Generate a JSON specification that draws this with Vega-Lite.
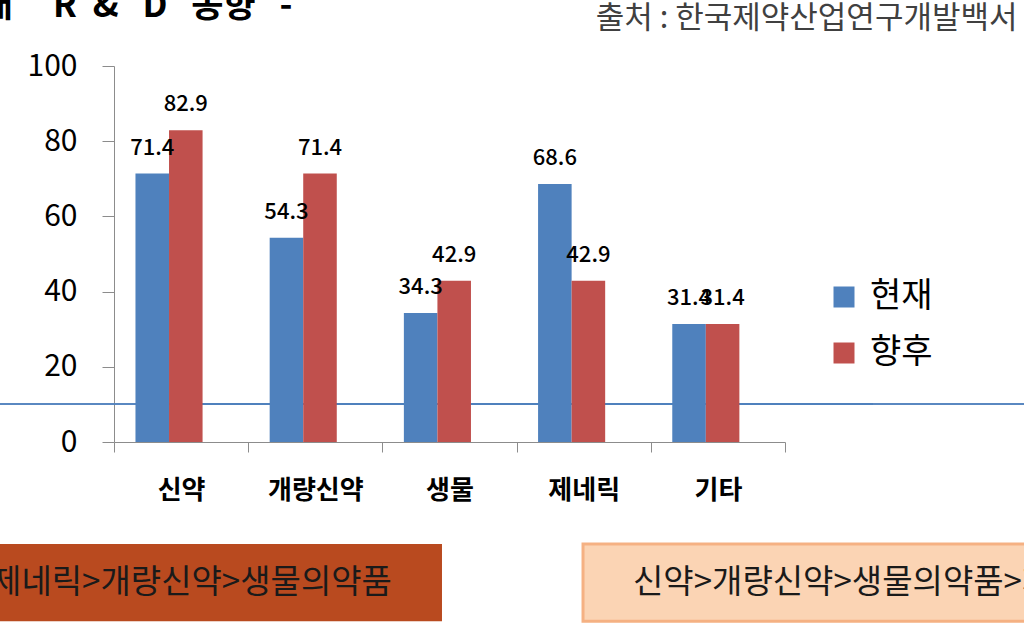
{
  "$schema": "https://vega.github.io/schema/vega-lite/v6.json",
  "autosize": {"type": "none"},
  "padding": {"left": 114, "top": 66, "right": 239, "bottom": 195},
  "width": 671,
  "height": 376,
  "background": "white",
  "config": {
    "font": "Noto Sans CJK KR",
    "view": {"stroke": null}
  },
  "title": {
    "text": "내\u00a0\u00a0\u00a0\u00a0\u00a0R\u00a0\u00a0&\u00a0\u00a0\u00a0D\u00a0\u00a0\u00a0동향\u00a0\u00a0\u00a0-",
    "anchor": "start",
    "frame": "group",
    "fontSize": 35,
    "fontWeight": "bold",
    "color": "#000000",
    "baseline": "alphabetic",
    "offset": 0,
    "dx": -133,
    "dy": 50
  },
  "resolve": {"scale": {"x": "independent"}, "axis": {"x": "independent"}},
  "layer": [
    {
      "data": {
        "values": [
          {"box": "신약>제네릭>개량신약>생물의약품"},
          {"box": "신약>개량신약>생물의약품>제네릭"}
        ]
      },
      "encoding": {
        "x": {
          "field": "box",
          "type": "nominal",
          "sort": null,
          "scale": {
            "domain": ["신약>제네릭>개량신약>생물의약품", "신약>개량신약>생물의약품>제네릭"],
            "range": [-252, 1049],
            "paddingInner": 0.1956,
            "paddingOuter": 0
          },
          "axis": null
        }
      },
      "layer": [
        {
          "mark": {"type": "rule", "color": "#4F81BD", "strokeWidth": 1.5, "clip": false},
          "encoding": {
            "x": {"datum": "신약>개량신약>생물의약품>제네릭", "type": "nominal", "bandPosition": 1},
            "x2": {"datum": "신약>제네릭>개량신약>생물의약품"},
            "y": {"datum": 10.1}
          }
        },
        {
          "mark": {"type": "rule", "color": "#4F81BD", "strokeWidth": 1.5, "clip": false},
          "encoding": {
            "x": {"datum": "신약>제네릭>개량신약>생물의약품", "type": "nominal", "bandPosition": 0},
            "x2": {"datum": "신약>개량신약>생물의약품>제네릭"},
            "y": {"datum": 10.1}
          }
        },
        {
          "transform": [{"filter": "datum.box === '신약>제네릭>개량신약>생물의약품'"}],
          "mark": {"type": "rect", "color": "#B94A1F", "clip": false},
          "encoding": {"y": {"datum": -27.1}, "y2": {"datum": -47.7}}
        },
        {
          "transform": [{"filter": "datum.box === '신약>개량신약>생물의약품>제네릭'"}],
          "mark": {"type": "rect", "fill": "#FBD4B4", "stroke": "#F5B183", "strokeWidth": 3, "clip": false},
          "encoding": {"y": {"datum": -27.1}, "y2": {"datum": -47.7}}
        },
        {
          "mark": {"type": "text", "fontSize": 33, "color": "#1a1a1a", "baseline": "middle", "align": "center"},
          "encoding": {"y": {"datum": -37.5}, "text": {"field": "box"}}
        }
      ]
    },
    {
      "data": {
        "values": [
          {"category": "신약", "series": "현재", "value": 71.4},
          {"category": "신약", "series": "향후", "value": 82.9},
          {"category": "개량신약", "series": "현재", "value": 54.3},
          {"category": "개량신약", "series": "향후", "value": 71.4},
          {"category": "생물", "series": "현재", "value": 34.3},
          {"category": "생물", "series": "향후", "value": 42.9},
          {"category": "제네릭", "series": "현재", "value": 68.6},
          {"category": "제네릭", "series": "향후", "value": 42.9},
          {"category": "기타", "series": "현재", "value": 31.4},
          {"category": "기타", "series": "향후", "value": 31.4}
        ]
      },
      "encoding": {
        "x": {
          "field": "category",
          "type": "nominal",
          "sort": ["신약", "개량신약", "생물", "제네릭", "기타"],
          "scale": {"paddingInner": 0, "paddingOuter": 0},
          "axis": {
            "title": null,
            "labelAngle": 0,
            "labelFontSize": 26,
            "labelFontWeight": "bold",
            "labelColor": "#000000",
            "labelPadding": 25,
            "tickBand": "extent",
            "tickSize": 10,
            "tickColor": "#8c8c8c",
            "domainColor": "#8c8c8c",
            "grid": false
          }
        },
        "y": {
          "field": "value",
          "type": "quantitative",
          "scale": {"domain": [0, 100], "nice": false},
          "axis": {
            "values": [0, 20, 40, 60, 80, 100],
            "labelFontSize": 30,
            "labelColor": "#000000",
            "labelPadding": 25,
            "tickSize": 12,
            "tickColor": "#8c8c8c",
            "domainColor": "#8c8c8c",
            "gridColor": "#8c8c8c",
            "title": "출처 : 한국제약산업연구개발백서",
            "titleAngle": 0,
            "titleAlign": "right",
            "titleBaseline": "top",
            "titleX": 903,
            "titleY": -63,
            "titleFontSize": 31,
            "titleFontWeight": "normal",
            "titleColor": "#404040"
          }
        },
        "xOffset": {
          "field": "series",
          "type": "nominal",
          "sort": ["현재", "향후"],
          "scale": {"paddingInner": 0, "paddingOuter": 1.233, "align": 0.32}
        }
      },
      "layer": [
        {
          "mark": {"type": "bar"},
          "encoding": {
            "color": {
              "field": "series",
              "type": "nominal",
              "sort": ["현재", "향후"],
              "scale": {"domain": ["현재", "향후"], "range": ["#4F81BD", "#C0504D"]},
              "legend": {
                "title": null,
                "orient": "none",
                "legendX": 713,
                "legendY": 214,
                "symbolType": "square",
                "symbolSize": 441,
                "symbolStrokeWidth": 0,
                "labelFontSize": 34,
                "labelColor": "#000000",
                "labelOffset": 9,
                "rowPadding": 22
              }
            }
          }
        },
        {
          "mark": {"type": "text", "baseline": "middle", "dy": -26, "fontSize": 22, "fontWeight": 500, "color": "#000000"},
          "encoding": {
            "text": {"field": "value", "type": "quantitative", "format": ".1f"}
          }
        }
      ]
    }
  ]
}
